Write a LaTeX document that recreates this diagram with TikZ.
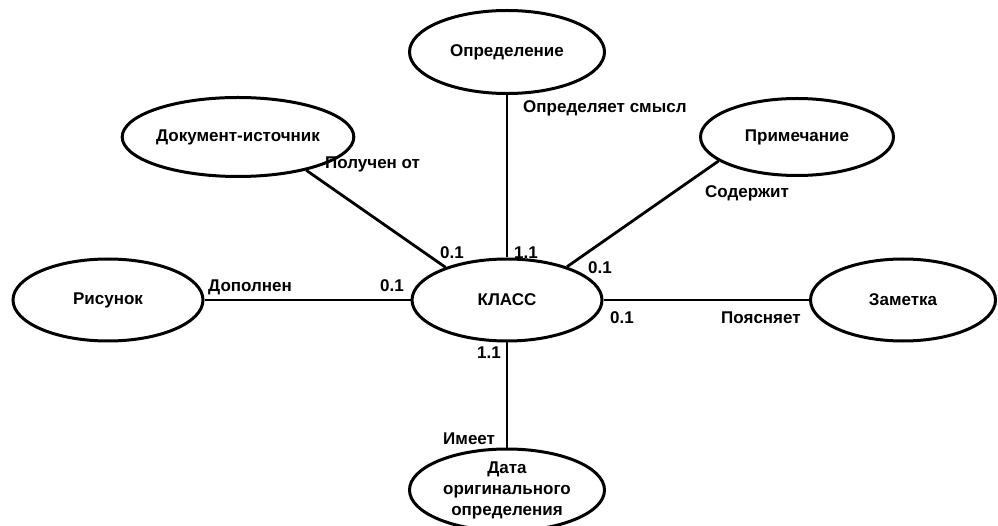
\documentclass[tikz,border=0pt]{standalone}
\usepackage{fontspec}
\setmainfont{Liberation Sans}
\usetikzlibrary{shapes.geometric}
\begin{document}
\begin{tikzpicture}[x=1pt,y=-1pt,
  ent/.style={ellipse,draw,line width=3pt,inner sep=0pt,align=center,
    font=\bfseries\fontsize{17}{21}\selectfont},
  lbl/.style={anchor=base west,inner sep=0pt,font=\bfseries\fontsize{17}{21}\selectfont},
  conn/.style={line width=2.8pt},
  thin/.style={line width=2pt}]
\useasboundingbox (0,0) rectangle (998,526);
\node[ent,minimum width=195pt,minimum height=83pt] (def) at (507,52) {Определение};
\node[ent,minimum width=191pt,minimum height=79pt] (doc) at (238,137) {Документ-источник};
\node[ent,minimum width=193pt,minimum height=77pt] (note) at (797,137) {Примечание};
\node[ent,minimum width=190pt,minimum height=82pt] (fig) at (108,300) {Рисунок};
\node[ent,minimum width=190pt,minimum height=82pt] (cls) at (507,300) {КЛАСС};
\node[ent,minimum width=185pt,minimum height=82pt] (rem) at (903,300) {Заметка};
\node[ent,minimum width=195pt,minimum height=82pt] (date) at (507,490) {Дата\\оригинального\\определения};
\draw[thin] (def) -- (cls);
\draw[thin] (cls) -- (date);
\draw[conn] (fig) -- (cls);
\draw[conn] (cls) -- (rem);
\draw[conn] (doc.-26) -- (cls.152);
\draw[conn] (note.197) -- (cls.29);
\node[lbl] (l1) at (523,113) {Определяет смысл};
\node[lbl] (l2) at (325,169) {Получен от};
\node[lbl] (l3) at (705,198) {Содержит};
\node[lbl] (l4) at (440,259) {0.1};
\node[lbl] (l5) at (514,259) {1.1};
\node[lbl] (l6) at (588,274) {0.1};
\node[lbl] (l7) at (208,292) {Дополнен};
\node[lbl] (l8) at (380,292) {0.1};
\node[lbl] (l9) at (610,324) {0.1};
\node[lbl] (l10) at (721,324) {Поясняет};
\node[lbl] (l11) at (477,359) {1.1};
\node[lbl] (l12) at (443,444) {Имеет};
\end{tikzpicture}
\end{document}
